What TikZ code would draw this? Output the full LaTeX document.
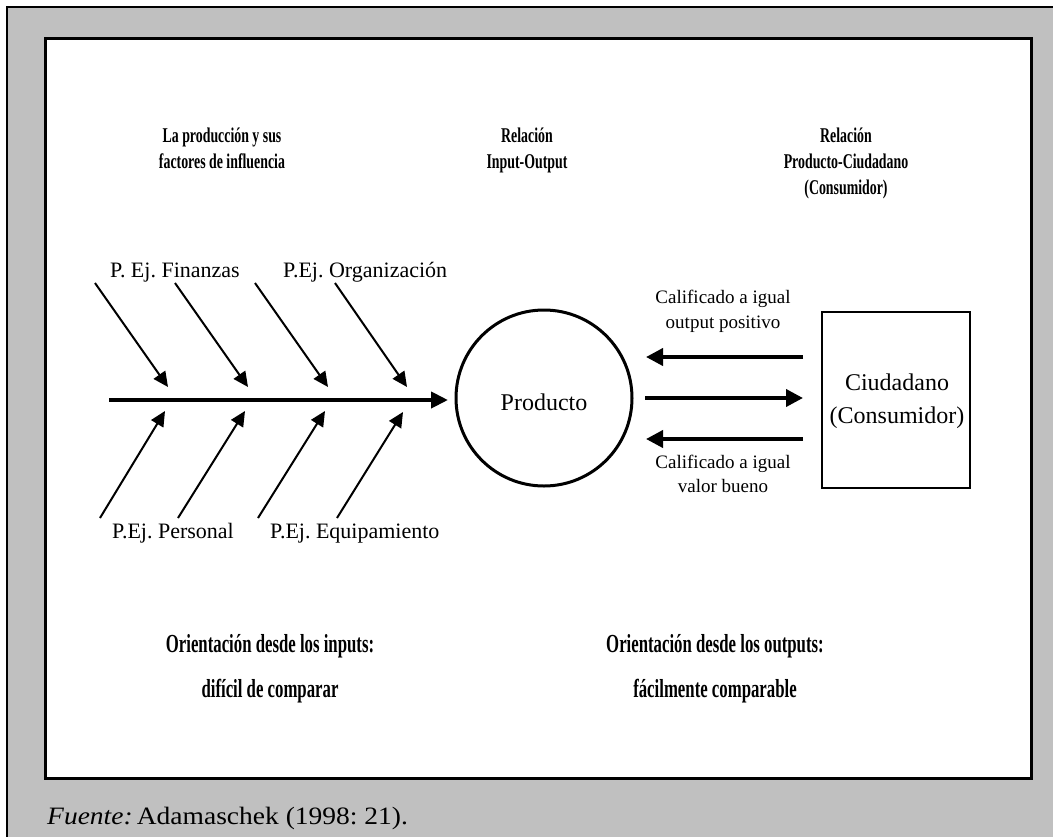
\documentclass[tikz,border=0pt]{standalone}
\usepackage{fontspec}
\setmainfont{Liberation Serif}
\newfontfamily\headfont[FakeStretch=0.66]{Liberation Serif}
\newfontfamily\bigheadfont[FakeStretch=0.645]{Liberation Serif}
\newfontfamily\srcfont[FakeStretch=1.1]{Liberation Serif}
\usetikzlibrary{arrows.meta}
\definecolor{panelgrey}{HTML}{C0C0C0}
\frenchspacing
\begin{document}
\begin{tikzpicture}[x=1pt,y=-1pt,
  head/.style={font=\headfont\bfseries\fontsize{21}{25}\selectfont, anchor=base, inner sep=0pt},
  bighead/.style={font=\bigheadfont\bfseries\fontsize{26}{30}\selectfont, anchor=base, inner sep=0pt},
  lab/.style={font=\fontsize{22}{26}\selectfont, anchor=base west, inner sep=0pt},
  small/.style={font=\fontsize{19}{22}\selectfont, anchor=base, inner sep=0pt},
  mid/.style={font=\fontsize{24}{28}\selectfont, anchor=base, inner sep=0pt},
  bone/.style={line width=2pt, -{Triangle[length=15pt,width=14pt]}},
  spine/.style={line width=4pt, -{Triangle[length=17pt,width=16pt]}},
  flow/.style={line width=3.8pt, -{Triangle[length=17pt,width=17pt]}}]
\useasboundingbox (0,0) rectangle (1053,836);
% frames
\fill[panelgrey, draw=black, line width=1.5pt] (7,7) rectangle (1070,850);
\filldraw[fill=white, draw=black, line width=3pt] (45,38) rectangle (1031,778);

% headers
\node[head] (h1a) at (222,142) {La producción y sus};
\node[head] (h1b) at (222,168) {factores de influencia};
\node[head] (h2a) at (527,142) {Relación};
\node[head] (h2b) at (527,168) {Input-Output};
\node[head] (h3a) at (846,142) {Relación};
\node[head] (h3b) at (846,168) {Producto-Ciudadano};
\node[head] (h3c) at (846,194) {(Consumidor)};

% fishbone labels
\node[lab] (fin) at (110,277) {P. Ej. Finanzas};
\node[lab] (org) at (283,277) {P.Ej. Organización};
\node[lab] (per) at (112,538) {P.Ej. Personal};
\node[lab] (equ) at (270,538) {P.Ej. Equipamiento};

% fishbone
\coordinate (s0) at (109,400);
\coordinate (s1) at (448,400);
\draw[spine] (s0) -- (s1);
\coordinate (u1s) at (95,283);  \coordinate (u1e) at (168,387);
\coordinate (u2s) at (175,283); \coordinate (u2e) at (248,387);
\coordinate (u3s) at (255,283); \coordinate (u3e) at (328,387);
\coordinate (u4s) at (335,283); \coordinate (u4e) at (407,387);
\coordinate (l1s) at (100,518); \coordinate (l1e) at (165,411);
\coordinate (l2s) at (178,518); \coordinate (l2e) at (245,411);
\coordinate (l3s) at (258,518); \coordinate (l3e) at (325,411);
\coordinate (l4s) at (337,518); \coordinate (l4e) at (403,412);
\foreach \i in {1,2,3,4} {
  \draw[bone] (u\i s) -- (u\i e);
  \draw[bone] (l\i s) -- (l\i e);
}

% product
\node[draw, circle, line width=3pt, minimum size=176pt, inner sep=0pt] (prod) at (544,398) {};
\node[mid] (prodt) at (544,410) {Producto};

% citizen box
\node[draw, line width=2.5pt, minimum width=148pt, minimum height=176pt, inner sep=0pt] (box) at (896,400) {};
\node[mid] (cit1) at (897,390) {Ciudadano};
\node[mid] (cit2) at (897,423) {(Consumidor)};

% flows
\coordinate (a1s) at (803,357); \coordinate (a1e) at (646,357);
\coordinate (a2s) at (645,398); \coordinate (a2e) at (803,398);
\coordinate (a3s) at (803,439); \coordinate (a3e) at (646,439);
\draw[flow] (a1s) -- (a1e);
\draw[flow] (a2s) -- (a2e);
\draw[flow] (a3s) -- (a3e);
\node[small] (c1a) at (723,303) {Calificado a igual};
\node[small] (c1b) at (723,328) {output positivo};
\node[small] (c2a) at (723,468) {Calificado a igual};
\node[small] (c2b) at (723,492) {valor bueno};

% bottom headings
\node[bighead] (o1a) at (270,652) {Orientación desde los inputs:};
\node[bighead] (o1b) at (270,697) {difícil de comparar};
\node[bighead] (o2a) at (715,652) {Orientación desde los outputs:};
\node[bighead] (o2b) at (715,697) {fácilmente comparable};

% source
\node[font=\srcfont\fontsize{25}{29}\selectfont, anchor=base west, inner sep=0pt] (src) at (47,824) {\textit{Fuente:}\,Adamaschek (1998: 21).};
\end{tikzpicture}
\end{document}
